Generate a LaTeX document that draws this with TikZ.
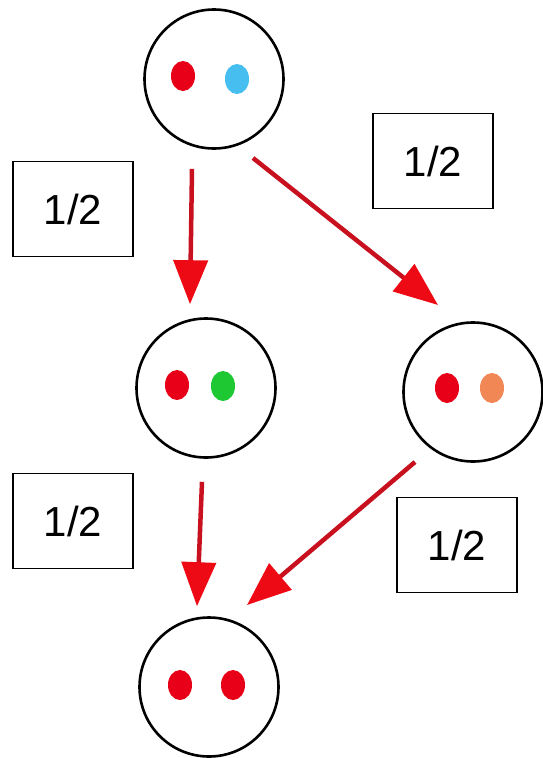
\documentclass[tikz,border=0pt]{standalone}
\usepackage{fontspec}
\setmainfont{Liberation Sans}
\usetikzlibrary{arrows.meta,calc,shapes.geometric}

\definecolor{shaftred}{RGB}{200,16,30}
\definecolor{tipred}{RGB}{238,10,20}
\definecolor{dotred}{RGB}{232,0,24}
\definecolor{dotblue}{RGB}{70,190,240}
\definecolor{dotgreen}{RGB}{30,200,50}
\definecolor{dotorange}{RGB}{240,135,85}

\tikzset{
  cell/.style={circle, draw=black, line width=2.6pt, minimum size=139pt, inner sep=0pt},
  dot/.style={ellipse, fill=#1, minimum width=24pt, minimum height=30pt, inner sep=0pt},
  probbox/.style={draw=black, line width=1.6pt, minimum width=120pt, minimum height=95pt,
    inner sep=0pt, font=\fontsize{42}{50}\selectfont},
  transition/.style={draw=shaftred, line width=4.5pt,
    -{Triangle[length=44pt,width=34pt,color=tipred]}}
}

\begin{document}
\begin{tikzpicture}[x=1pt,y=-1pt]
  \useasboundingbox (0,0) rectangle (543,758);
  \fill[white] (0,0) rectangle (543,758);

  % the four cells
  \node[cell] (top) at (214,79) {};
  \node[cell] (ml)  at (206,388) {};
  \node[cell] (mr)  at (473,392) {};
  \node[cell] (bot) at (209,687) {};

  % contents of each cell
  \node[dot=dotred]    (topa) at (183,76) {};
  \node[dot=dotblue]   (topb) at (237,79) {};
  \node[dot=dotred]    (mla)  at (177,385) {};
  \node[dot=dotgreen]  (mlb)  at (223,386) {};
  \node[dot=dotred]    (mra)  at (447,388) {};
  \node[dot=dotorange] (mrb)  at (492,388) {};
  \node[dot=dotred]    (bota) at (180,685) {};
  \node[dot=dotred]    (botb) at (233,685) {};

  % probability labels
  \node[probbox] (p1) at (73,209)  {1/2};
  \node[probbox] (p2) at (433,161) {1/2};
  \node[probbox] (p3) at (73,521)  {1/2};
  \node[probbox] (p4) at (457,545) {1/2};

  % transitions
  \draw[transition] ($(top.south)+(-22,19)$) -- ($(ml.north)+(-16,-13)$);
  \draw[transition] ($(top)+(39,79)$) -- ($(mr)+(-35,-87)$);
  \draw[transition] ($(ml.south)+(-4,23)$) -- ($(bot.north)+(-12,-10)$);
  \draw[transition] ($(mr)+(-58,70)$) -- ($(bot)+(38,-82)$);
\end{tikzpicture}
\end{document}
